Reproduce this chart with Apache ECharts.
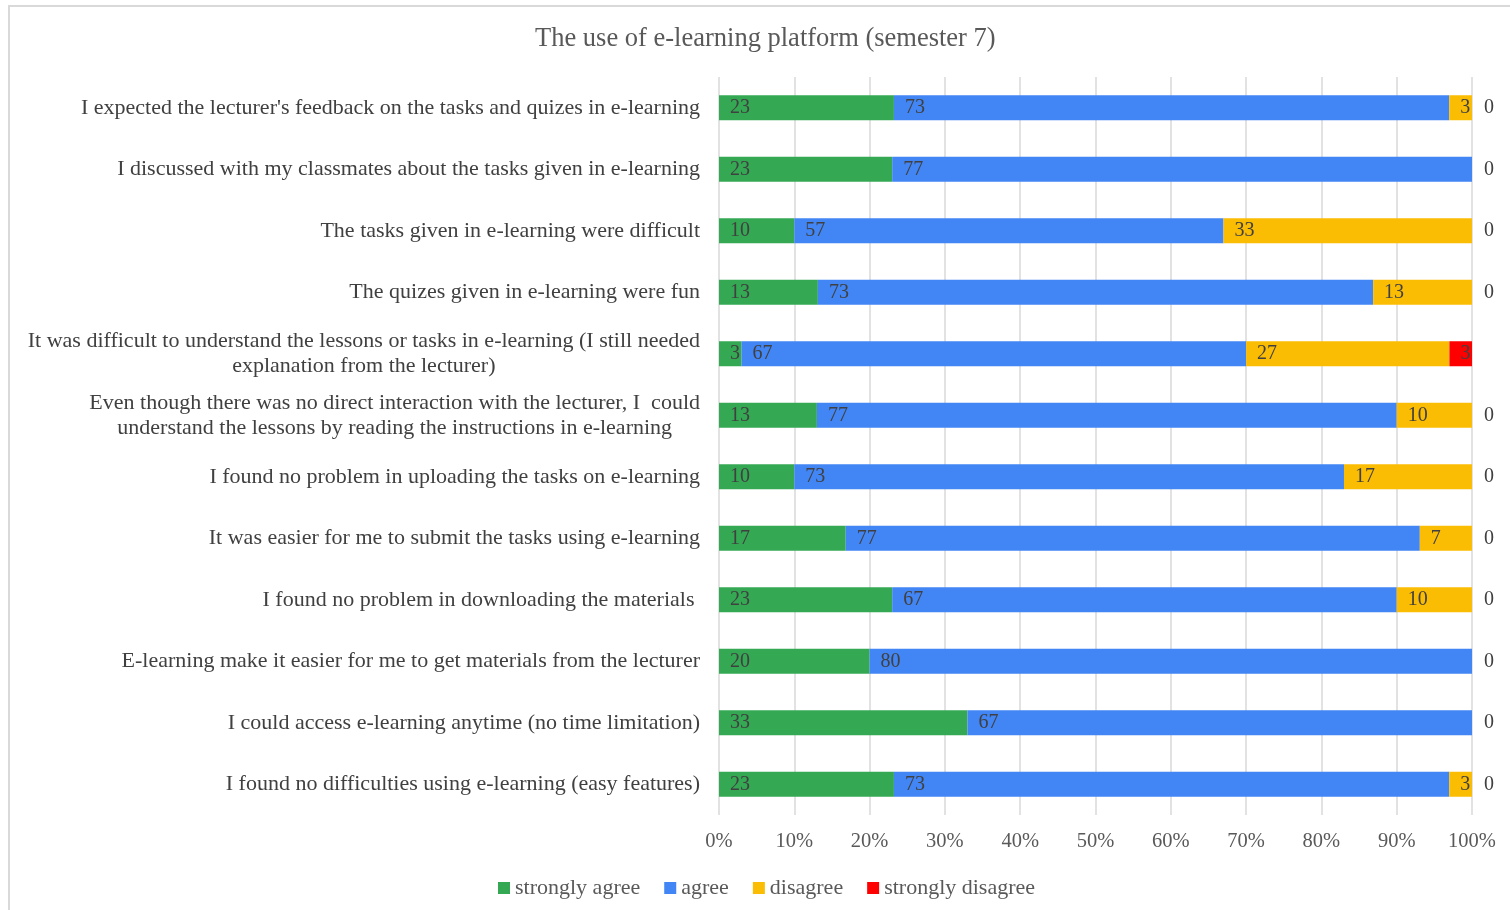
<!DOCTYPE html>
<html>
<head>
<meta charset="utf-8">
<script src="https://cdn.jsdelivr.net/npm/echarts@6/dist/echarts.min.js"></script>
<style>
html,body{margin:0;padding:0;background:#fff;}
#frame{position:absolute;left:8px;top:5px;width:1520px;height:930px;border-left:2px solid #d9d9d9;border-top:2px solid #d9d9d9;box-sizing:border-box;}
#chart{position:absolute;left:0;top:0;width:1510px;height:910px;}
</style>
</head>
<body>
<div id="frame"></div>
<div id="chart"></div>
<script>
const categories = [
  "I expected the lecturer's feedback on the tasks and quizes in e-learning",
  "I discussed with my classmates about the tasks given in e-learning",
  "The tasks given in e-learning were difficult",
  "The quizes given in e-learning were fun",
  "It was difficult to understand the lessons or tasks in e-learning (I still needed\nexplanation from the lecturer)",
  "Even though there was no direct interaction with the lecturer, I  could\nunderstand the lessons by reading the instructions in e-learning",
  "I found no problem in uploading the tasks on e-learning",
  "It was easier for me to submit the tasks using e-learning",
  "I found no problem in downloading the materials ",
  "E-learning make it easier for me to get materials from the lecturer",
  "I could access e-learning anytime (no time limitation)",
  "I found no difficulties using e-learning (easy features)"
];
const stronglyAgree    = [23, 23, 10, 13, 3, 13, 10, 17, 23, 20, 33, 23];
const agree            = [73, 77, 57, 73, 67, 77, 73, 77, 67, 80, 67, 73];
const disagree         = [3, 0, 33, 13, 27, 10, 17, 7, 10, 0, 0, 3];
const stronglyDisagree = [0, 0, 0, 0, 3, 0, 0, 0, 0, 0, 0, 0];
const seriesNames = ['strongly agree', 'agree', 'disagree', 'strongly disagree'];
const tickLabels = ['0%','10%','20%','30%','40%','50%','60%','70%','80%','90%','100%'];

const colors = ['#34A853', '#4285F4', '#FBBC04', '#FF0000'];
const raw = [stronglyAgree, agree, disagree, stronglyDisagree];
const totals = categories.map((c, i) => raw.reduce((s, arr) => s + arr[i], 0));
const FONT = "'Liberation Serif', 'Times New Roman', serif";

const series = raw.map((arr, si) => ({
  name: seriesNames[si],
  type: 'bar',
  stack: 'total',
  barWidth: 25,
  itemStyle: { color: colors[si] },
  data: arr.map((v, i) => {
    const item = { value: v / totals[i] * 100, raw: v };
    if (v === 0) {
      if (si === 3) {
        item.label = { show: true, position: 'right', distance: 12, color: '#404040' };
      } else {
        item.label = { show: false };
      }
    }
    return item;
  }),
  label: {
    show: true,
    position: 'insideLeft',
    distance: 11,
    fontFamily: FONT,
    fontSize: 20,
    color: '#404040',
    formatter: p => String(p.data.raw)
  }
}));

const chart = echarts.init(document.getElementById('chart'));
chart.setOption({
  animation: false,
  backgroundColor: 'transparent',
  title: {
    text: 'The use of e-learning platform (semester 7)',
    left: 530,
    top: 21,
    textStyle: { fontFamily: FONT, fontSize: 26.5, fontWeight: 'normal', color: '#595959' }
  },
  legend: {
    data: seriesNames,
    left: 493,
    top: 872,
    icon: 'rect',
    itemWidth: 12,
    itemHeight: 12,
    itemGap: 24,
    textStyle: { fontFamily: FONT, fontSize: 22, color: '#595959' }
  },
  grid: { left: 719, right: 38, top: 77, bottom: 95, containLabel: false },
  xAxis: {
    type: 'value',
    min: 0,
    max: 100,
    interval: 10,
    axisLine: { show: false },
    axisTick: { show: false },
    splitLine: { show: true, lineStyle: { color: '#d9d9d9', width: 1.5 } },
    axisLabel: {
      margin: 16,
      fontFamily: FONT,
      fontSize: 20.5,
      color: '#595959',
      formatter: v => tickLabels[Math.round(v / 10)]
    }
  },
  yAxis: {
    type: 'category',
    inverse: true,
    data: categories,
    axisLine: { show: false },
    axisTick: { show: false },
    axisLabel: {
      margin: 19,
      fontFamily: FONT,
      fontSize: 22,
      color: '#404040',
      lineHeight: 25,
      formatter: v => v.split('\n').map(l => '{c|' + l + '}').join('\n'),
      rich: { c: { align: 'center', fontFamily: FONT, fontSize: 22, color: '#404040', lineHeight: 25 } }
    }
  },
  series: series
});
</script>
</body>
</html>
